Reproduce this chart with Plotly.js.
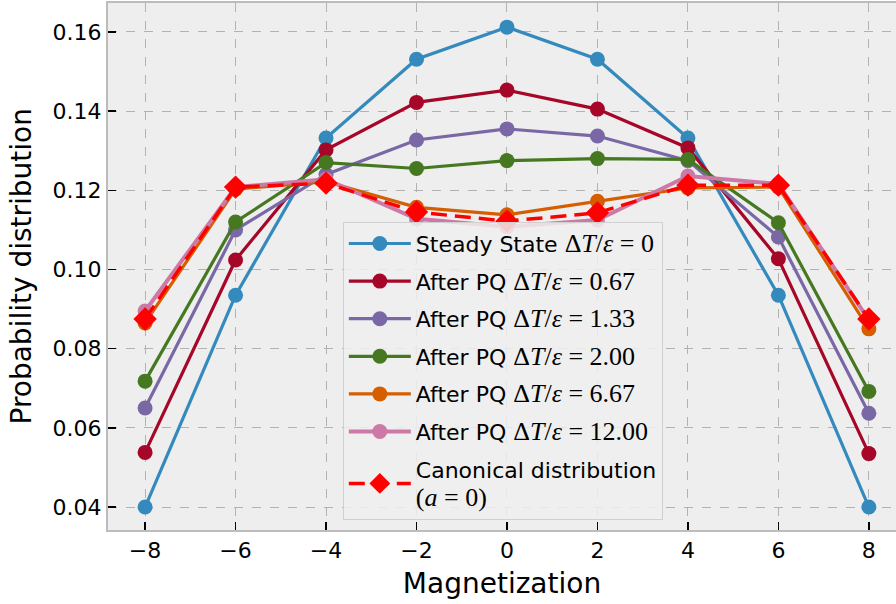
<!DOCTYPE html>
<html>
<head>
<meta charset="utf-8">
<script src="https://cdn.plot.ly/plotly-3.0.1.min.js"></script>
<style>html,body{margin:0;padding:0;background:#fff;}#chart{width:896px;height:604px;}</style>
</head>
<body>
<div id="chart"></div>
<script>
const magnetization = [-8, -6, -4, -2, 0, 2, 4, 6, 8];
const steadyState = [0.0400, 0.0935, 0.1332, 0.1531, 0.1612, 0.1531, 0.1332, 0.0935, 0.0400];
const afterPQ067 = [0.0538, 0.1024, 0.1302, 0.1422, 0.1453, 0.1405, 0.1307, 0.1027, 0.0535];
const afterPQ133 = [0.0650, 0.1100, 0.1240, 0.1327, 0.1355, 0.1337, 0.1275, 0.1082, 0.0637];
const afterPQ200 = [0.0718, 0.1120, 0.1270, 0.1255, 0.1275, 0.1280, 0.1278, 0.1118, 0.0692];
const afterPQ667 = [0.0865, 0.1203, 0.1222, 0.1157, 0.1138, 0.1172, 0.1206, 0.1208, 0.0850];
const afterPQ1200 = [0.0895, 0.1208, 0.1228, 0.1128, 0.1108, 0.1125, 0.1236, 0.1216, 0.0872];
const canonical = [0.0875, 0.1208, 0.1218, 0.1145, 0.1122, 0.1143, 0.1213, 0.1213, 0.0875];
const seriesNames = [
  'Steady State ', 'After PQ ', 'After PQ ', 'After PQ ', 'After PQ ', 'After PQ '
];
const seriesMath = ['0', '0.67', '1.33', '2.00', '6.67', '12.00'];
const xTickVals = [-8, -6, -4, -2, 0, 2, 4, 6, 8];
const yTickVals = [0.04, 0.06, 0.08, 0.10, 0.12, 0.14, 0.16];
const xTitle = 'Magnetization';
const yTitle = 'Probability distribution';

const colors = ['#348ABD', '#A60628', '#7A68A6', '#467821', '#D55E00', '#CC79A7'];
const mathFont = "font-family:'Liberation Serif';font-size:26px";
function mathLabel(v) {
  return "<span style=\"" + mathFont + "\">Δ<i>T</i>/<i>ε</i> = " + v + "</span>";
}
const seriesValues = [steadyState, afterPQ067, afterPQ133, afterPQ200, afterPQ667, afterPQ1200];
const traces = seriesValues.map((vals, i) => ({
  x: magnetization,
  y: vals,
  type: 'scatter',
  mode: 'lines+markers',
  name: seriesNames[i] + mathLabel(seriesMath[i]),
  legendgroup: 'g' + i,
  line: {color: colors[i], width: i === 5 ? 4 : 3.2},
  marker: {color: colors[i], size: 15, symbol: 'circle'}
}));
traces.push({
  x: magnetization,
  y: canonical,
  type: 'scatter',
  mode: 'lines+markers',
  name: "Canonical distribution<br><span style=\"" + mathFont + "\">(<i>a</i> = 0)</span>",
  legendgroup: 'g6',
  line: {color: '#FF0000', width: 3.5, dash: '16px,8px'},
  marker: {color: '#FF0000', size: 18, symbol: 'diamond'}
});

const layout = {
  width: 896,
  height: 604,
  margin: {l: 108, r: 0, t: 3, b: 74},
  paper_bgcolor: '#ffffff',
  plot_bgcolor: '#eeeeee',
  font: {family: 'DejaVu Sans', size: 22, color: '#000'},
  showlegend: true,
  legend: {
    x: 0.298, y: 0.585, xanchor: 'left', yanchor: 'top',
    bgcolor: 'rgba(238,238,238,0.85)',
    bordercolor: '#d0d0d0', borderwidth: 1,
    font: {family: 'DejaVu Sans', size: 22, color: '#000'},
    tracegroupgap: 6,
    itemwidth: 62
  },
  xaxis: {
    range: [-8.82, 8.6],
    tickvals: xTickVals,
    ticks: 'inside', ticklen: 8, tickwidth: 1.5, tickcolor: '#000',
    showline: true, linecolor: '#bcbcbc', linewidth: 2, mirror: true,
    showgrid: true, gridcolor: '#b2b2b2', griddash: 'dash', gridwidth: 1,
    zeroline: false,
    tickfont: {family: 'DejaVu Sans', size: 22},
    title: {text: xTitle, font: {family: 'DejaVu Sans', size: 28}, standoff: 11}
  },
  yaxis: {
    range: [0.0342, 0.1673],
    tickvals: yTickVals,
    tickformat: '.2f',
    ticks: 'inside', ticklen: 8, tickwidth: 1.5, tickcolor: '#000',
    showline: true, linecolor: '#bcbcbc', linewidth: 2,
    showgrid: true, gridcolor: '#b2b2b2', griddash: 'dash', gridwidth: 1,
    zeroline: false,
    tickfont: {family: 'DejaVu Sans', size: 22}
  },
  annotations: [{
    text: yTitle,
    xref: 'paper', yref: 'paper',
    x: -0.1104, y: 0.5,
    xanchor: 'center', yanchor: 'middle',
    textangle: -90,
    showarrow: false,
    font: {family: 'DejaVu Sans', size: 28, color: '#000'}
  }]
};
Plotly.newPlot('chart', traces, layout, {displayModeBar: false, staticPlot: true});
</script>
</body>
</html>
